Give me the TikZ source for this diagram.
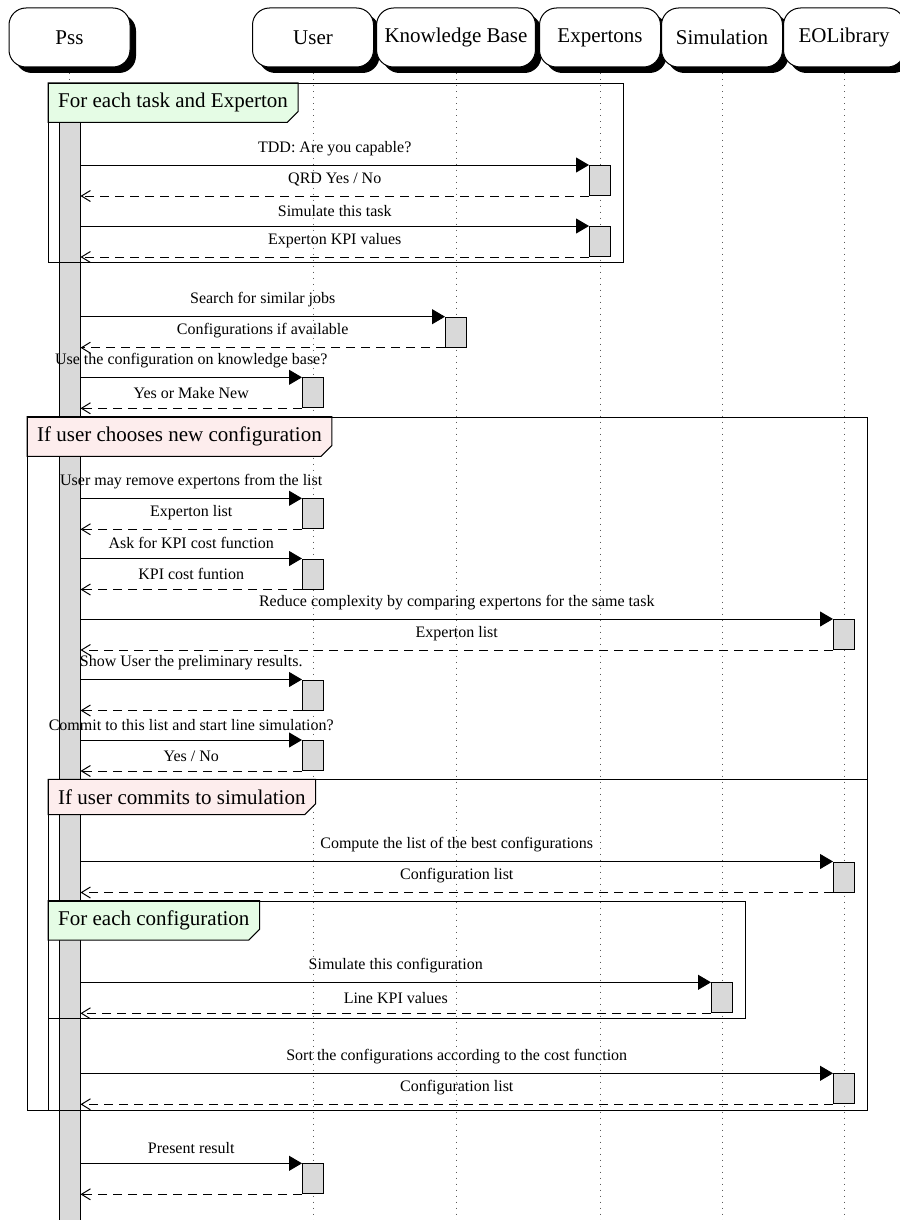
\documentclass[tikz,border=0pt]{standalone}
\usepackage{fontspec}
\setmainfont{Liberation Serif}
\usetikzlibrary{shadows,arrows.meta,calc}

\definecolor{loopfill}{RGB}{229,252,229}
\definecolor{altfill}{RGB}{253,237,237}
\definecolor{actfill}{RGB}{217,217,217}

\pgfdeclarelayer{back}
\pgfdeclarelayer{mid}
\pgfsetlayers{back,mid,main}

\tikzset{
  actor/.style={draw, fill=white, rounded corners=17pt, minimum width=121pt,
    minimum height=59pt, inner sep=8pt, line width=1pt,
    font=\fontsize{21}{25}\selectfont,
    drop shadow={shadow xshift=6pt, shadow yshift=-6pt, fill=black, opacity=1}},
  lifeline/.style={draw=black!65, line width=1pt, dash pattern=on 1pt off 5pt},
  actbox/.style={draw, fill=actfill, line width=1pt, minimum width=21pt,
    minimum height=30pt, inner sep=0pt, anchor=north},
  callmsg/.style={line width=1pt, -{Triangle[length=13pt,width=15pt]}},
  retmsg/.style={line width=1pt, dash pattern=on 9pt off 6pt,
    -{Straight Barb[length=9pt,width=11pt]}},
  msglabel/.style={font=\fontsize{16}{19}\selectfont, anchor=south,
    inner sep=0pt, yshift=9pt},
  framebox/.style={draw, line width=1pt, anchor=north west, inner sep=0pt},
  framelabel/.style={anchor=north west, inner sep=10pt,
    font=\fontsize{21}{25}\selectfont},
  labeltab/.style={draw, line width=1pt}
}

% tab with a cut lower-right corner behind a frame label
\newcommand{\labeltab}[2]{%
  \begin{pgfonlayer}{mid}
    \path[labeltab, fill=#2] (#1.north west) -- (#1.north east)
      -- ([yshift=11pt]#1.south east) -- ([xshift=-11pt]#1.south east)
      -- (#1.south west) -- cycle;
  \end{pgfonlayer}}

\begin{document}
\begin{tikzpicture}[x=1pt,y=-1pt]
\useasboundingbox (0,0) rectangle (899,1220);

% participants
\node[actor] (pss) at (69.5,37.5) {Pss};
\node[actor] (user) at (313,37.5) {User};
\node[actor] (kb) at (456,37.5) {Knowledge Base};
\node[actor] (exp) at (600,37.5) {Expertons};
\node[actor] (sim) at (722,37.5) {Simulation};
\node[actor] (eol) at (844,37.5) {EOLibrary};

% lifelines and the long activation of Pss
\begin{pgfonlayer}{back}
  \foreach \p in {pss,user,kb,exp,sim,eol}{
    \coordinate (\p-end) at (\p.south |- 0,1225);
    \draw[lifeline] (\p.south) -- (\p-end);
  }
  \node[draw, fill=actfill, line width=1pt, minimum width=21pt,
    minimum height=1130pt, inner sep=0pt, anchor=north] (bar) at (69.5,105) {};
\end{pgfonlayer}

% combined fragments
\node[framebox, minimum width=575pt, minimum height=179pt] (loop1) at (48,83) {};
\node[framelabel] (loop1l) at (loop1.north west) {For each task and Experton};
\labeltab{loop1l}{loopfill}

\node[framebox, minimum width=839.7pt, minimum height=692.8pt] (alt1) at (27,416.7) {};
\node[framelabel] (alt1l) at (alt1.north west) {If user chooses new configuration};
\labeltab{alt1l}{altfill}

\node[framebox, minimum width=818.7pt, minimum height=330.2pt] (alt2) at (48,779.3) {};
\node[framelabel] (alt2l) at (alt2.north west) {If user commits to simulation};
\labeltab{alt2l}{altfill}

\node[framebox, minimum width=697pt, minimum height=117.8pt] (loop2) at (48,900.5) {};
\node[framelabel] (loop2l) at (loop2.north west) {For each configuration};
\labeltab{loop2l}{loopfill}

% activation boxes on the called lifelines
\node[actbox] (a1) at (600,165) {};
\node[actbox] (a2) at (600,226) {};
\node[actbox] (a3) at (456,316.7) {};
\node[actbox] (a4) at (313,377.3) {};
\node[actbox] (a5) at (313,498.3) {};
\node[actbox] (a6) at (313,558.5) {};
\node[actbox] (a7) at (844,619) {};
\node[actbox] (a8) at (313,679.5) {};
\node[actbox] (a9) at (313,740) {};
\node[actbox] (a10) at (844,861.5) {};
\node[actbox] (a11) at (722,982.3) {};
\node[actbox] (a12) at (844,1073.3) {};
\node[actbox] (a13) at (313,1163.3) {};

% calls and replies
\draw[callmsg] (bar.east |- a1.north west) -- node[msglabel] {TDD: Are you capable?} (a1.north west);
\draw[retmsg] (a1.south west) -- node[msglabel] {QRD Yes / No} (bar.east |- a1.south west);

\draw[callmsg] (bar.east |- a2.north west) -- node[msglabel] {Simulate this task} (a2.north west);
\draw[retmsg] (a2.south west) -- node[msglabel] {Experton KPI values} (bar.east |- a2.south west);

\draw[callmsg] (bar.east |- a3.north west) -- node[msglabel] {Search for similar jobs} (a3.north west);
\draw[retmsg] (a3.south west) -- node[msglabel] {Configurations if available} (bar.east |- a3.south west);

\draw[callmsg] (bar.east |- a4.north west) -- node[msglabel] {Use the configuration on knowledge base?} (a4.north west);
\draw[retmsg] (a4.south west) -- node[msglabel] {Yes or Make New} (bar.east |- a4.south west);

\draw[callmsg] (bar.east |- a5.north west) -- node[msglabel] {User may remove expertons from the list} (a5.north west);
\draw[retmsg] (a5.south west) -- node[msglabel] {Experton list} (bar.east |- a5.south west);

\draw[callmsg] (bar.east |- a6.north west) -- node[msglabel] {Ask for KPI cost function} (a6.north west);
\draw[retmsg] (a6.south west) -- node[msglabel] {KPI cost funtion} (bar.east |- a6.south west);

\draw[callmsg] (bar.east |- a7.north west) -- node[msglabel] {Reduce complexity by comparing expertons for the same task} (a7.north west);
\draw[retmsg] (a7.south west) -- node[msglabel] {Experton list} (bar.east |- a7.south west);

\draw[callmsg] (bar.east |- a8.north west) -- node[msglabel] {Show User the preliminary results.} (a8.north west);
\draw[retmsg] (a8.south west) -- (bar.east |- a8.south west);

\draw[callmsg] (bar.east |- a9.north west) -- node[msglabel] {Commit to this list and start line simulation?} (a9.north west);
\draw[retmsg] (a9.south west) -- node[msglabel] {Yes / No} (bar.east |- a9.south west);

\draw[callmsg] (bar.east |- a10.north west) -- node[msglabel] {Compute the list of the best configurations} (a10.north west);
\draw[retmsg] (a10.south west) -- node[msglabel] {Configuration list} (bar.east |- a10.south west);

\draw[callmsg] (bar.east |- a11.north west) -- node[msglabel] {Simulate this configuration} (a11.north west);
\draw[retmsg] (a11.south west) -- node[msglabel] {Line KPI values} (bar.east |- a11.south west);

\draw[callmsg] (bar.east |- a12.north west) -- node[msglabel] {Sort the configurations according to the cost function} (a12.north west);
\draw[retmsg] (a12.south west) -- node[msglabel] {Configuration list} (bar.east |- a12.south west);

\draw[callmsg] (bar.east |- a13.north west) -- node[msglabel] {Present result} (a13.north west);
\draw[retmsg] (a13.south west) -- (bar.east |- a13.south west);

\end{tikzpicture}
\end{document}
